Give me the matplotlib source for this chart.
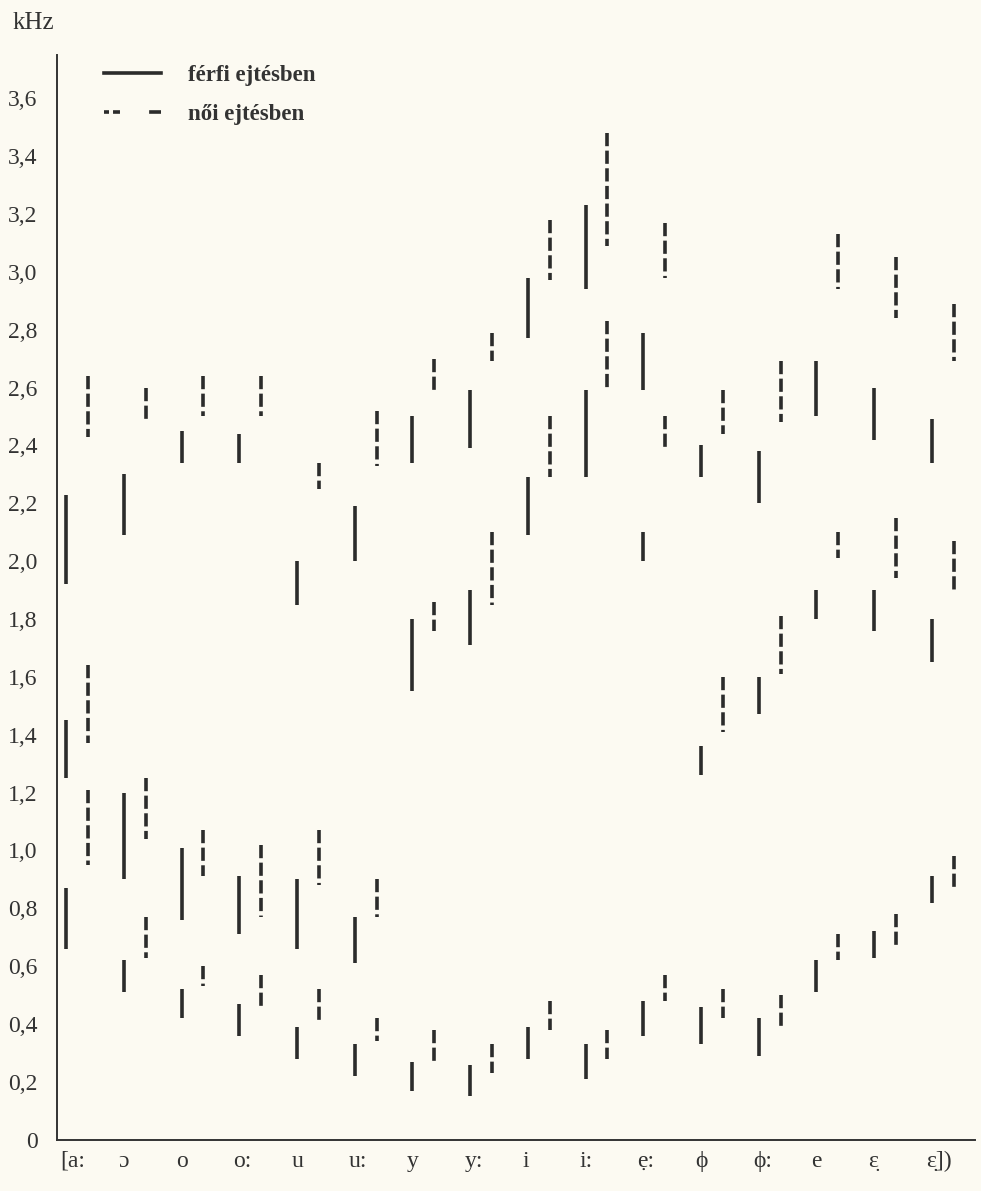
import matplotlib
matplotlib.use("Agg")
import matplotlib.pyplot as plt
from matplotlib.lines import Line2D
import numpy as np

plt.rcParams['font.family'] = ['Liberation Serif', 'DejaVu Serif']
plt.rcParams['lines.scale_dashes'] = False

# vowels along the x axis
vowels = ['[a:', 'ɔ', 'o', 'o:', 'u', 'u:', 'y', 'y:', 'i', 'i:',
          'ẹ:', 'ϕ', 'ϕ:', 'e', 'ɛ̣', 'ɛ̣])']

# formant ranges in kHz, (low, high) per vowel
male_f1 = [(0.66, 0.87), (0.51, 0.62), (0.42, 0.52), (0.36, 0.47), (0.28, 0.39),
           (0.22, 0.33), (0.17, 0.27), (0.15, 0.26), (0.28, 0.39), (0.21, 0.33),
           (0.36, 0.48), (0.33, 0.46), (0.29, 0.42), (0.51, 0.62), (0.63, 0.72),
           (0.82, 0.91)]
male_f2 = [(1.25, 1.45), (0.90, 1.20), (0.76, 1.01), (0.71, 0.91), (0.66, 0.90),
           (0.61, 0.77), (1.55, 1.80), (1.71, 1.90), (2.09, 2.29), (2.29, 2.59),
           (2.00, 2.10), (1.26, 1.36), (1.47, 1.60), (1.80, 1.90), (1.76, 1.90),
           (1.65, 1.80)]
male_f3 = [(1.92, 2.23), (2.09, 2.30), (2.34, 2.45), (2.34, 2.44), (1.85, 2.00),
           (2.00, 2.19), (2.34, 2.50), (2.39, 2.59), (2.77, 2.98), (2.94, 3.23),
           (2.59, 2.79), (2.29, 2.40), (2.20, 2.38), (2.50, 2.69), (2.42, 2.60),
           (2.34, 2.49)]

female_f1 = [(0.95, 1.21), (0.63, 0.77), (0.53, 0.60), (0.46, 0.57), (0.41, 0.52),
             (0.34, 0.42), (0.27, 0.38), (0.23, 0.33), (0.38, 0.48), (0.28, 0.38),
             (0.48, 0.57), (0.42, 0.52), (0.39, 0.50), (0.62, 0.71), (0.67, 0.78),
             (0.86, 0.98)]
female_f2 = [(1.37, 1.64), (1.04, 1.25), (0.91, 1.07), (0.77, 1.02), (0.88, 1.07),
             (0.77, 0.90), (1.76, 1.86), (1.85, 2.10), (2.29, 2.50), (2.60, 2.83),
             (2.39, 2.50), (1.41, 1.60), (1.61, 1.81), (2.01, 2.10), (1.94, 2.15),
             (1.90, 2.07)]
female_f3 = [(2.43, 2.64), (2.48, 2.60), (2.50, 2.64), (2.50, 2.64), (2.25, 2.34),
             (2.33, 2.52), (2.59, 2.70), (2.69, 2.79), (2.97, 3.18), (3.09, 3.48),
             (2.98, 3.17), (2.44, 2.59), (2.48, 2.69), (2.94, 3.13), (2.84, 3.05),
             (2.69, 2.89)]

ink = '#2b2b2b'
paper = '#fcfaf2'
dash = (0, (9.5, 3.2))

fig = plt.figure(figsize=(9.81, 11.91), dpi=100, facecolor=paper)
ax = fig.add_axes([0.058, 0.043, 0.936, 0.911])
ax.set_facecolor(paper)

x = np.arange(len(vowels))
for f in (male_f1, male_f2, male_f3):
    lo, hi = np.array(f).T
    ax.vlines(x, lo, hi, colors=ink, linewidth=2.6)
for f in (female_f1, female_f2, female_f3):
    lo, hi = np.array(f).T
    ax.vlines(x + 0.38, hi, lo, colors=ink, linewidth=2.6, linestyles=[dash])

ax.set_xlim(-0.16, 15.75)
ax.set_ylim(0, 3.75)

yt = np.round(np.arange(0, 3.61, 0.2), 1)
ax.set_yticks(yt)
ax.set_yticklabels(['0' if v == 0 else f'{v:.1f}'.replace('.', ',') for v in yt],
                   fontsize=17)
ax.set_xticks(x - 0.1)
ax.set_xticklabels(vowels, fontsize=17, ha='left')
ax.tick_params(axis='both', length=0, colors='#333333')
ax.tick_params(axis='y', pad=14)
ax.tick_params(axis='x', pad=8)

for s in ('top', 'right'):
    ax.spines[s].set_visible(False)
for s in ('left', 'bottom'):
    ax.spines[s].set_color('#333333')
    ax.spines[s].set_linewidth(1.4)

fig.text(0.034, 0.981, 'kHz', fontsize=18, ha='center', va='center', color='#333333')

handles = [Line2D([], [], color=ink, linewidth=2.6),
           Line2D([], [], color=ink, linewidth=2.6,
                  linestyle=(0, (3.6, 2.9, 5.0, 21.0, 9.4, 30.0)))]
leg = ax.legend(handles, ['férfi ejtésben', 'női ejtésben'],
                loc='upper left', bbox_to_anchor=(0.029, 1.01), frameon=False,
                handlelength=2.5, handletextpad=1.15, labelspacing=0.82,
                prop={'size': 16.5, 'weight': 'bold'})
for t in leg.get_texts():
    t.set_color('#333333')

fig.savefig('out.png', dpi=100, facecolor=paper)
